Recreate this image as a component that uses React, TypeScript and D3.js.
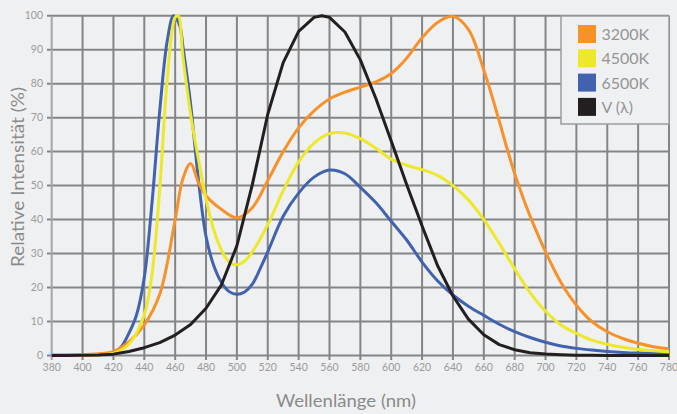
import React from "react";
import * as d3 from "d3";

const W = 677;
const H = 414;

const xTicks = [380, 400, 420, 440, 460, 480, 500, 520, 540, 560, 580, 600, 620, 640, 660, 680, 700, 720, 740, 760, 780];
const yTicks = [0, 10, 20, 30, 40, 50, 60, 70, 80, 90, 100];

const nm3200 = [380, 390, 400, 410, 420, 430, 440, 450, 460, 465, 470, 475, 480, 490, 500, 510, 520, 530, 540, 550, 560, 570, 580, 590, 600, 610, 620, 630, 640, 650, 660, 670, 675, 680, 685, 690, 700, 710, 720, 730, 740, 750, 760, 770, 780];
const val3200 = [0.2, 0.2, 0.3, 0.5, 1.2, 4, 9, 18, 40, 52, 56.5, 51, 47, 43, 40.5, 43.5, 51.5, 60, 67, 72, 75.5, 77.5, 79, 80.5, 83, 87.5, 93.5, 98, 99.8, 96, 84, 69, 61, 53.5, 47, 41, 30.5, 21.5, 14.8, 10, 7, 5, 3.6, 2.6, 2];

const nm4500 = [380, 390, 400, 410, 420, 430, 440, 445, 450, 455, 460, 462, 465, 470, 475, 480, 485, 490, 495, 500, 505, 510, 520, 530, 540, 550, 560, 570, 580, 590, 600, 610, 620, 630, 640, 650, 660, 670, 680, 690, 700, 710, 720, 730, 740, 750, 760, 770, 780];
const val4500 = [0, 0, 0.1, 0.2, 0.6, 3.3, 12, 24, 49, 82, 99.5, 100, 88, 71, 58, 46, 37, 31, 27.5, 26.7, 27.8, 30.5, 38.5, 48.5, 57, 62.5, 65.3, 65.5, 63.8, 61, 57.8, 56, 54.7, 53, 50, 45.8, 40, 33, 25.5, 18.5, 13, 9, 6.5, 4.5, 3.3, 2.4, 1.8, 1.4, 1.1];

const nm6500 = [380, 390, 400, 410, 420, 425, 430, 435, 440, 445, 450, 455, 459, 463, 465, 470, 475, 480, 485, 490, 495, 500, 505, 510, 515, 520, 530, 540, 550, 560, 570, 580, 590, 600, 610, 620, 630, 640, 650, 660, 670, 680, 690, 700, 710, 720, 730, 740, 750, 760, 770, 780];
const val6500 = [0, 0, 0.1, 0.2, 0.8, 2.5, 6.5, 12, 23, 45, 72, 93, 100, 97, 91, 74, 52, 35, 26.5, 21.5, 18.8, 18, 18.7, 21, 25.5, 30.5, 41, 47.8, 52.5, 54.6, 53.5, 49.5, 45, 39.5, 34, 27.5, 22, 17.8, 14.5, 11.8, 9.2, 7, 5.3, 3.9, 2.8, 2.1, 1.6, 1.2, 0.9, 0.7, 0.6, 0.5];

const nmV = [380, 390, 400, 410, 420, 430, 440, 450, 460, 470, 480, 490, 500, 510, 520, 530, 540, 550, 555, 560, 570, 580, 590, 600, 610, 620, 630, 640, 650, 660, 670, 680, 690, 700, 710, 720, 730, 740, 750, 760, 770, 780];
const valV = [0.004, 0.012, 0.04, 0.12, 0.4, 1.16, 2.3, 3.8, 6.0, 9.1, 13.9, 20.8, 32.3, 50.3, 71.0, 86.2, 95.4, 99.5, 100, 99.5, 95.2, 87.0, 75.7, 63.1, 50.3, 38.1, 26.5, 17.5, 10.7, 6.1, 3.2, 1.7, 0.82, 0.41, 0.21, 0.1, 0.05, 0.025, 0.012, 0.006, 0.003, 0.0015];

const seriesNames = ["3200K", "4500K", "6500K", "V (\u03bb)"];
const seriesColors = ["#f7922b", "#ede82a", "#4162ae", "#231f20"];

const FONT = "Lato, 'Open Sans', sans-serif";

export default function App() {
  const x = d3.scaleLinear().domain([380, 780]).range([51.7, 669]);
  const y = d3.scaleLinear().domain([0, 100]).range([355.5, 15.7]);

  const smooth = d3
    .line<[number, number]>()
    .x((d) => x(d[0]))
    .y((d) => y(d[1]))
    .curve(d3.curveCatmullRom.alpha(0.5));
  const straight = d3
    .line<[number, number]>()
    .x((d) => x(d[0]))
    .y((d) => y(d[1]))
    .curve(d3.curveLinear);

  const zip = (a: number[], b: number[]) => a.map((v, i) => [v, b[i]] as [number, number]);

  const paths = [
    { d: smooth(zip(nm6500, val6500)), c: seriesColors[2] },
    { d: smooth(zip(nm3200, val3200)), c: seriesColors[0] },
    { d: smooth(zip(nm4500, val4500)), c: seriesColors[1] },
    { d: straight(zip(nmV, valV)), c: seriesColors[3] },
  ];

  const gridColor = "#858585";
  const labelColor = "#9a9a9a";

  return (
    <svg
      width={W}
      height={H}
      style={{ position: "fixed", left: 0, top: 0, background: "#eff0f2" }}
    >
      <rect x={0} y={0} width={W} height={H} fill="#eff0f2" />
      {yTicks.map((t) => (
        <g key={"h" + t}>
          <line x1={47} x2={x(780)} y1={y(t)} y2={y(t)} stroke={gridColor} strokeWidth={2} />
          <text
            x={43}
            y={y(t) + 3.5}
            textAnchor="end"
            fontSize={10.5}
            fill={labelColor}
            fontFamily={FONT}
          >
            {t}
          </text>
        </g>
      ))}
      {xTicks.map((t) => (
        <g key={"v" + t}>
          <line
            x1={x(t)}
            x2={x(t)}
            y1={y(100)}
            y2={y(0) + 4.5}
            stroke={t === 380 ? "#a5a5a5" : gridColor}
            strokeWidth={2}
          />
          <text
            x={x(t)}
            y={371}
            textAnchor="middle"
            fontSize={10.5}
            fill={labelColor}
            fontFamily={FONT}
          >
            {t}
          </text>
        </g>
      ))}
      {paths.map((p, i) => (
        <path key={i} d={p.d || ""} fill="none" stroke={p.c} strokeWidth={3} strokeLinejoin="round" />
      ))}
      <rect x={561} y={16} width={108} height={108} fill="#eff0f2" stroke="#9c9c9c" strokeWidth={1.5} />
      {seriesNames.map((n, i) => (
        <g key={n}>
          <rect x={578} y={25 + i * 24.3} width={18} height={18} fill={seriesColors[i]} />
          <text x={601.5} y={40 + i * 24.3} fontSize={16} fill="#959595" fontFamily={FONT}>
            {n}
          </text>
        </g>
      ))}
      <text
        x={346}
        y={407}
        textAnchor="middle"
        fontSize={18}
        textLength={140}
        lengthAdjust="spacingAndGlyphs"
        fill="#8a8a8a"
        fontFamily={FONT}
      >
        Wellenlänge (nm)
      </text>
      <text
        transform={`translate(24, 177) rotate(-90)`}
        textAnchor="middle"
        fontSize={18}
        textLength={180}
        lengthAdjust="spacingAndGlyphs"
        fill="#8a8a8a"
        fontFamily={FONT}
      >
        Relative Intensität (%)
      </text>
    </svg>
  );
}
